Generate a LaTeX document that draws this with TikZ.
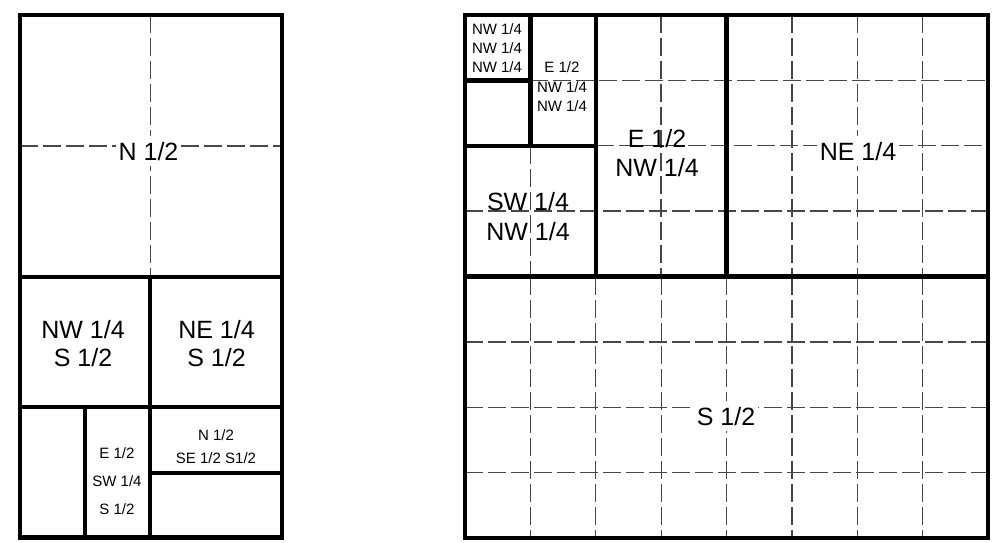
\documentclass[tikz,border=0pt]{standalone}
\usepackage{fontspec}
\setmainfont{Liberation Sans}
\begin{document}
\begin{tikzpicture}[x=1pt,y=-1pt,
  wall/.style={line width=4.3pt, line join=miter},
  gridline/.style={line width=1.25pt, black!72, dash pattern=on 18pt off 5pt},
  big/.style={font=\fontsize{25}{28}\selectfont, inner sep=0pt, anchor=base},
  small/.style={font=\fontsize{15}{19}\selectfont, inner sep=0pt, anchor=base},
  blank/.style={fill=white, inner xsep=3pt, inner ysep=6pt}
]
\useasboundingbox (0,0) rectangle (996,542);

% ---------------- left panel ----------------
\draw[gridline] (150.5,15) -- (150.5,277);
\draw[gridline] (20,146) -- (282,146);
\node[big,blank] (ln) at (148.5,160) {N 1/2};

\node[big] (lnw1) at (83,338) {NW 1/4};
\node[big] (lnw2) at (83,366) {S 1/2};
\node[big] (lne1) at (216.5,338) {NE 1/4};
\node[big] (lne2) at (216.5,366) {S 1/2};

\node[small] (le1) at (117,458) {E 1/2};
\node[small] (le2) at (117,486) {SW 1/4};
\node[small] (le3) at (117,514.5) {S 1/2};

\node[small] (lr1) at (216,440.5) {N 1/2};
\node[small] (lr2) at (216,463) {SE 1/2 S1/2};

\draw[wall] (20,15) rectangle (282,537.5);
\draw[wall] (20,277) -- (282,277);
\draw[wall] (150,277) -- (150,537.5);
\draw[wall] (20,407) -- (282,407);
\draw[wall] (85,407) -- (85,537.5);
\draw[wall] (150,473) -- (282,473);

% ---------------- right panel ----------------
\def\cw{65.375}
% bottom half grid
\foreach \i in {1,...,7} {
  \draw[gridline] ({465+\i*\cw},276.5) -- ({465+\i*\cw},538);
}
\foreach \j in {5,6,7} {
  \draw[gridline] (465,{15+\j*\cw}) -- (988,{15+\j*\cw});
}
% top half grid
\foreach \i in {4,5,6,7} {
  \draw[gridline] ({465+\i*\cw},15) -- ({465+\i*\cw},276.5);
}
\draw[gridline] (661.1,15) -- (661.1,276.5);
\draw[gridline] (530.4,145.75) -- (530.4,276.5);
\draw[gridline] (530.4,80.4) -- (988,80.4);
\draw[gridline] (595.75,145.75) -- (988,145.75);
\draw[gridline] (465,211.1) -- (988,211.1);

\node[small] (r1a) at (497,34) {NW 1/4};
\node[small] (r1b) at (497,53) {NW 1/4};
\node[small] (r1c) at (497,72) {NW 1/4};

\node[small] (r2a) at (562,72) {E 1/2};
\node[small] (r2b) at (562,92) {NW 1/4};
\node[small] (r2c) at (562,111) {NW 1/4};

\node[big] (r3a) at (657,147) {E 1/2};
\node[big] (r3b) at (657,176) {NW 1/4};

\node[big] (r4a) at (528,210) {SW 1/4};
\node[big] (r4b) at (528,240) {NW 1/4};

\node[big,blank] (rne) at (858,160) {NE 1/4};
\node[big,blank] (rs) at (726,425) {S 1/2};

\draw[wall] (465,15) rectangle (988,538);
\draw[wall] (465,276.5) -- (988,276.5);
\draw[wall] (726.5,15) -- (726.5,276.5);
\draw[wall] (595.75,15) -- (595.75,276.5);
\draw[wall] (465,145.75) -- (595.75,145.75);
\draw[wall] (530.4,15) -- (530.4,145.75);
\draw[wall] (465,80.4) -- (530.4,80.4);
\end{tikzpicture}
\end{document}
